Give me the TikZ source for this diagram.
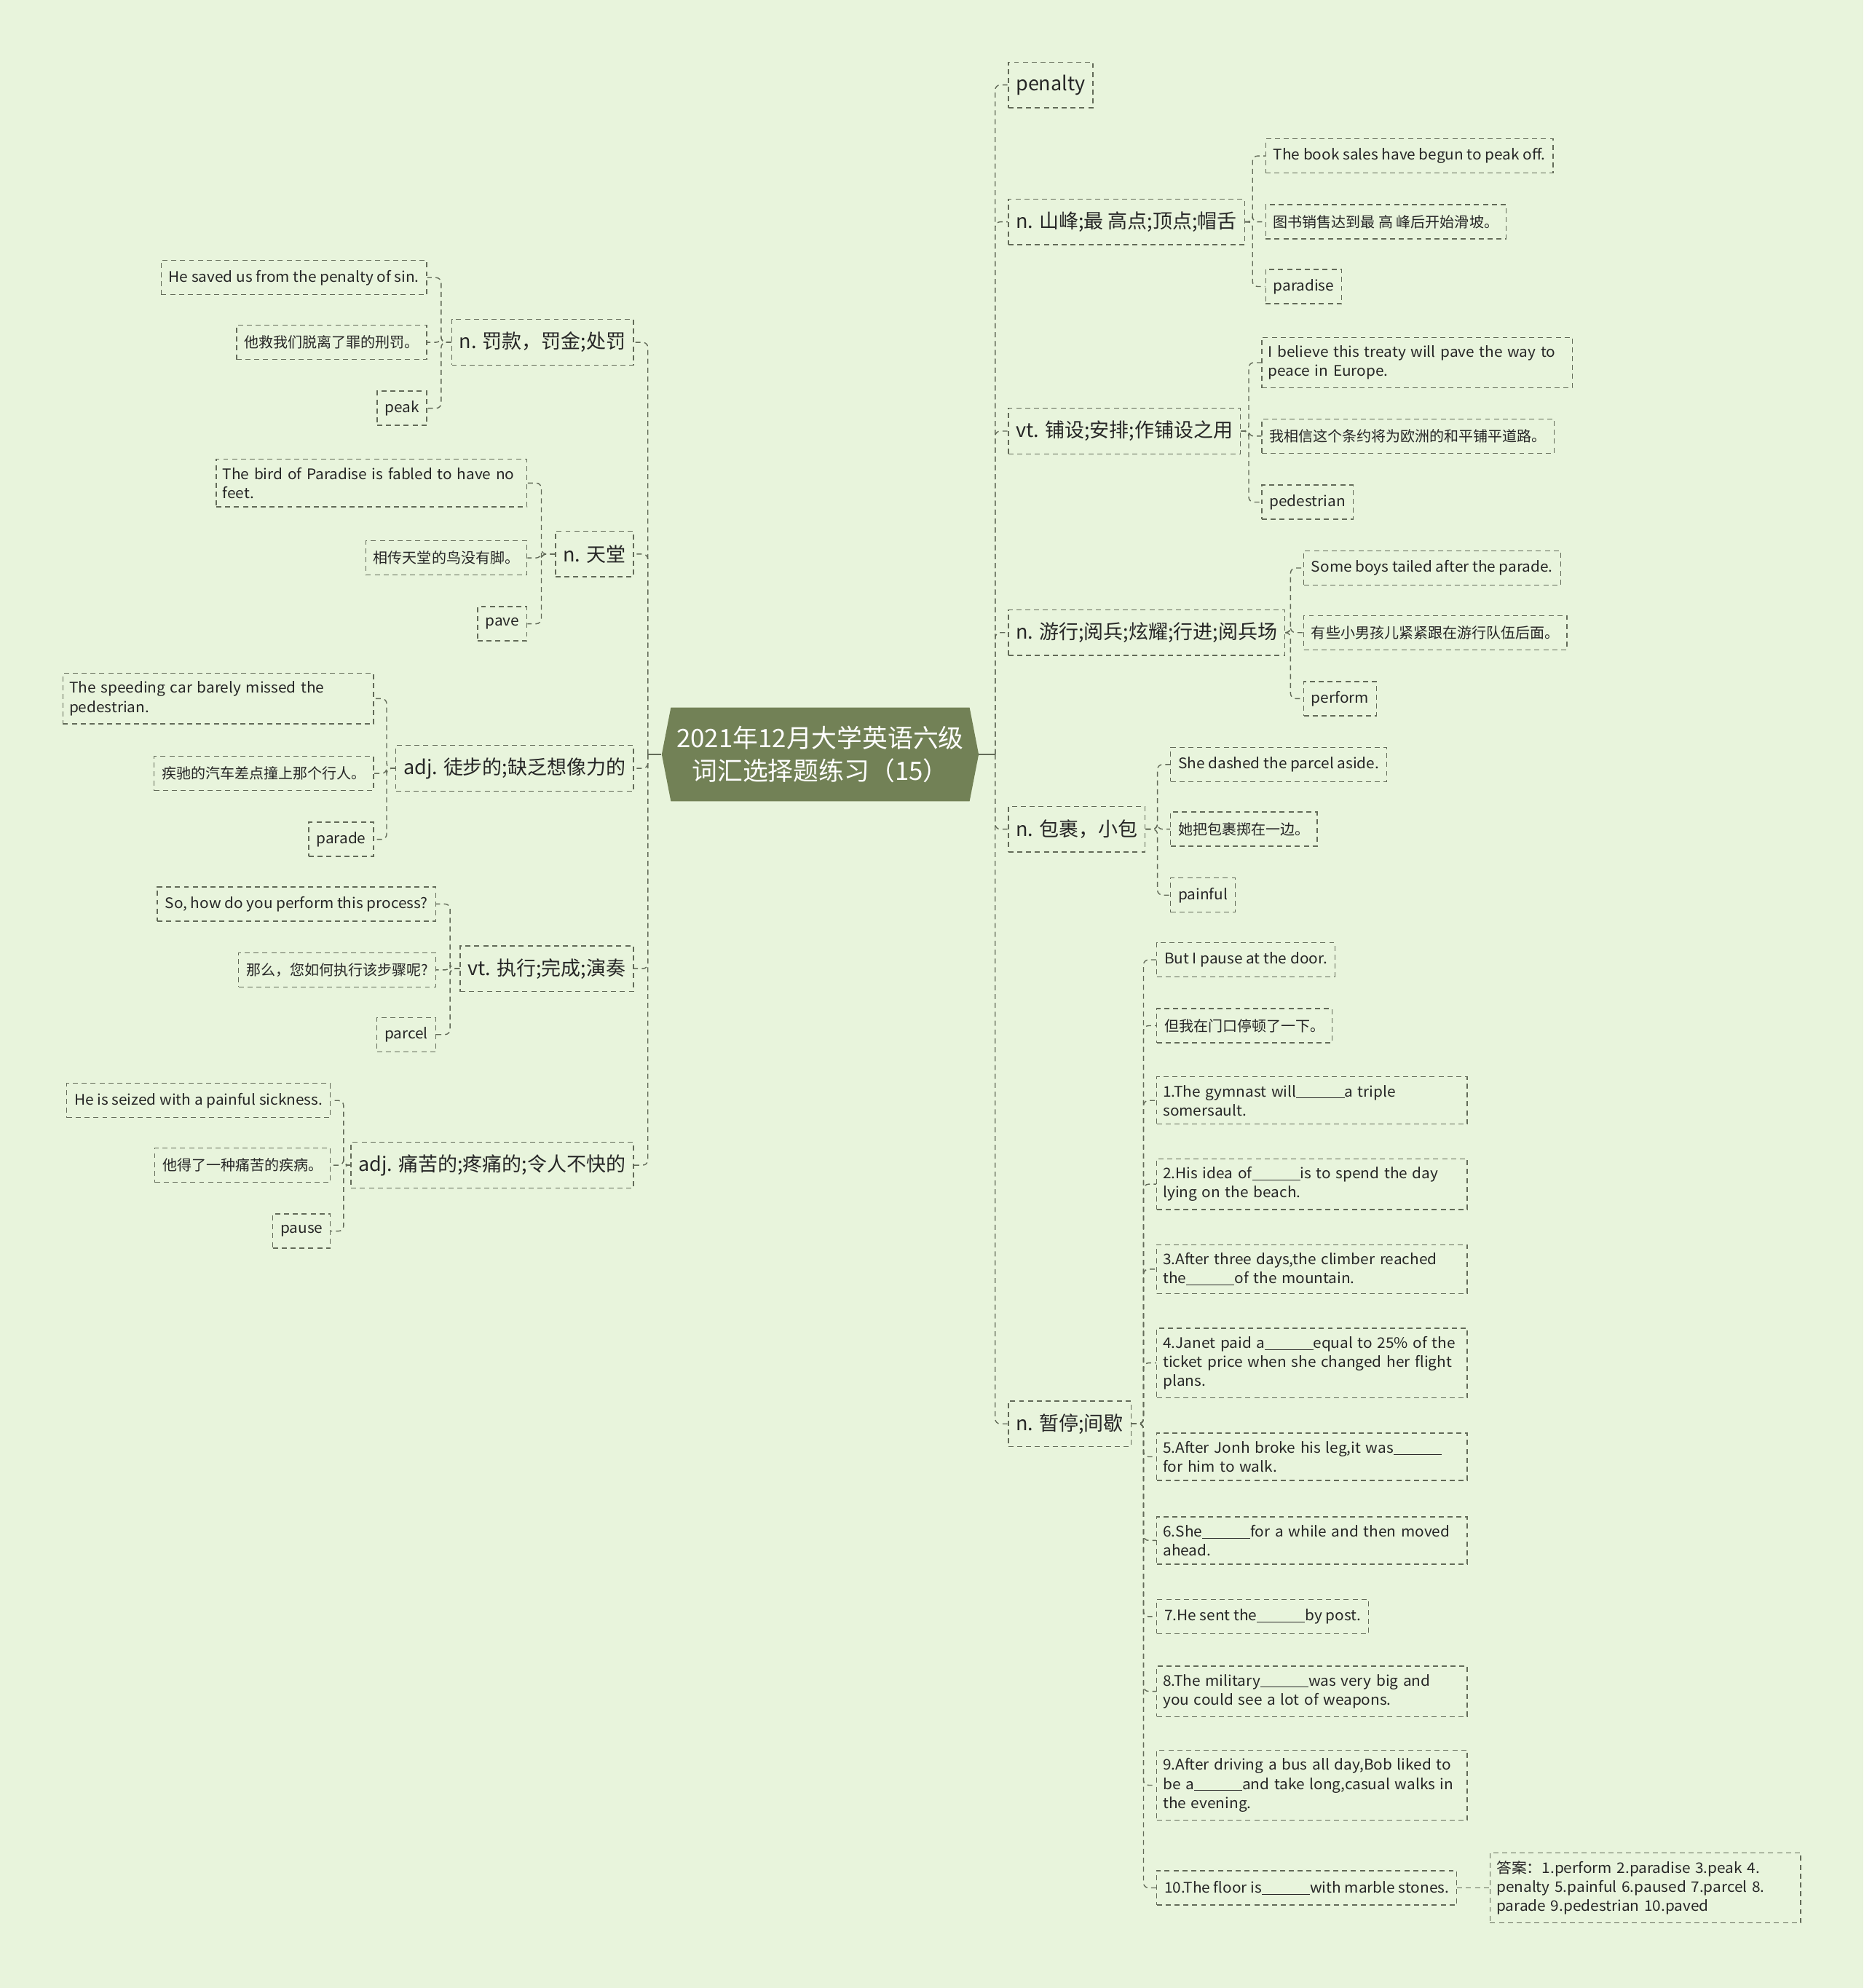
\documentclass[tikz,border=0pt]{standalone}
\usepackage{fontspec}
\setmainfont{Noto Sans CJK SC}
\newfontfamily\latinfont{Noto Sans CJK SC}[FakeStretch=1.04]
\usetikzlibrary{shapes.symbols}

\definecolor{bgcol}{RGB}{232,244,220}
\definecolor{rootcol}{RGB}{114,129,86}
\definecolor{linecol}{RGB}{98,106,88}
\definecolor{txtcol}{RGB}{38,38,38}
\newcommand{\blank}{\rule[-1.2pt]{38pt}{0.5pt}}

\tikzset{
  box/.style={draw=linecol, dash pattern=on 4pt off 3pt, line width=0.8pt,
    inner xsep=6pt, inner ysep=0pt, text=txtcol},
  topic/.style={box, font=\fontsize{15.5}{19}\selectfont, minimum height=36pt},
  leaf/.style={box, font=\fontsize{11.5}{15}\selectfont, minimum height=27pt},
  eng/.style={leaf, font=\fontsize{11.5}{15}\selectfont\latinfont},
  wide/.style={eng, text width=235pt, align=left, inner xsep=5pt, inner ysep=6.5pt},
  conn/.style={draw=linecol, dash pattern=on 4pt off 3pt, line width=0.8pt, rounded corners=4pt},
  stub/.style={draw=linecol, line width=1.6pt},
  root/.style={signal, signal to=west and east, signal pointer angle=158,
    fill=rootcol, text=white, minimum width=250pt, minimum height=74pt,
    inner sep=0pt, align=center, font=\fontsize{20}{26}\selectfont},
}

\begin{document}
\begin{tikzpicture}[x=1pt, y=-1pt]
    \fill[bgcol] (0,0) rectangle (1470,1568);
    \useasboundingbox (0,0) rectangle (1470,1568);

    \node[root] (root) at (647,595) {2021年12月大学英语六级\\词汇选择题练习（15）};
    \coordinate (rtrunk) at (785,595);
    \coordinate (ltrunk) at (511,595);
    \draw[stub] (root.east) -- (rtrunk);
    \draw[stub] (root.west) -- (ltrunk);

    % right side
    \node[topic, anchor=west] (R1) at (795,67) {penalty};
    \node[topic, anchor=west] (R2) at (795,175) {n. 山峰;最 高点;顶点;帽舌};
    \node[topic, anchor=west] (R3) at (795,340) {vt. 铺设;安排;作铺设之用};
    \node[topic, anchor=west] (R4) at (795,499) {n. 游行;阅兵;炫耀;行进;阅兵场};
    \node[topic, anchor=west] (R5) at (795,654) {n. 包裹，小包};
    \node[topic, anchor=west] (R6) at (795,1123) {n. 暂停;间歇};
    \foreach \n in {R1,R2,R3,R4,R5,R6}
        \draw[conn] (rtrunk) |- (\n.west);

    \node[eng, anchor=west] (R2a) at (998,123) {The book sales have begun to peak off.};
    \node[leaf, anchor=west] (R2b) at (998,175) {图书销售达到最 高 峰后开始滑坡。};
    \node[eng, anchor=west] (R2c) at (998,226) {paradise};
    \coordinate (R2t) at (988,175);
    \foreach \c in {R2a,R2b,R2c}
        \draw[conn] (R2.east) -- (R2t) |- (\c.west);

    \node[wide, anchor=west] (R3a) at (995,286) {I believe this treaty will pave the way to\\peace in Europe.};
    \node[leaf, anchor=west] (R3b) at (995,344) {我相信这个条约将为欧洲的和平铺平道路。};
    \node[eng, anchor=west] (R3c) at (995,396) {pedestrian};
    \coordinate (R3t) at (985,340);
    \foreach \c in {R3a,R3b,R3c}
        \draw[conn] (R3.east) -- (R3t) |- (\c.west);

    \node[eng, anchor=west] (R4a) at (1028,448) {Some boys tailed after the parade.};
    \node[leaf, anchor=west] (R4b) at (1028,499) {有些小男孩儿紧紧跟在游行队伍后面。};
    \node[eng, anchor=west] (R4c) at (1028,551) {perform};
    \coordinate (R4t) at (1018,499);
    \foreach \c in {R4a,R4b,R4c}
        \draw[conn] (R4.east) -- (R4t) |- (\c.west);

    \node[eng, anchor=west] (R5a) at (923,603) {She dashed the parcel aside.};
    \node[leaf, anchor=west] (R5b) at (923,654) {她把包裹掷在一边。};
    \node[eng, anchor=west] (R5c) at (923,706) {painful};
    \coordinate (R5t) at (913,654);
    \foreach \c in {R5a,R5b,R5c}
        \draw[conn] (R5.east) -- (R5t) |- (\c.west);

    \node[eng, anchor=west] (R6a) at (912,757) {But I pause at the door.};
    \node[leaf, anchor=west] (R6b) at (912,809) {但我在门口停顿了一下。};
    \node[wide, anchor=west] (Q1) at (912,868) {1.The gymnast will\blank a triple\\somersault.};
    \node[wide, anchor=west] (Q2) at (912,934) {2.His idea of\blank is to spend the day\\lying on the beach.};
    \node[wide, anchor=west] (Q3) at (912,1001) {3.After three days,the climber reached\\the\blank of the mountain.};
    \node[wide, anchor=west] (Q4) at (912,1075) {4.Janet paid a\blank equal to 25\% of the\\ticket price when she changed her flight\\plans.};
    \node[wide, anchor=west] (Q5) at (912,1149) {5.After Jonh broke his leg,it was\blank\\for him to walk.};
    \node[wide, anchor=west] (Q6) at (912,1215) {6.She\blank for a while and then moved\\ahead.};
    \node[eng, anchor=west] (Q7) at (912,1275) {7.He sent the\blank by post.};
    \node[wide, anchor=west] (Q8) at (912,1334) {8.The military\blank was very big and\\you could see a lot of weapons.};
    \node[wide, anchor=west] (Q9) at (912,1408) {9.After driving a bus all day,Bob liked to\\be a\blank and take long,casual walks in\\the evening.};
    \node[eng, anchor=west] (Q10) at (912,1489) {10.The floor is\blank with marble stones.};
    \coordinate (R6t) at (902,1123);
    \foreach \c in {R6a,R6b,Q1,Q2,Q3,Q4,Q5,Q6,Q7,Q8,Q9,Q10}
        \draw[conn] (R6.east) -- (R6t) |- (\c.west);

    \node[wide, anchor=west] (ANS) at (1175,1489) {答案：1.perform 2.paradise 3.peak 4.\\penalty 5.painful 6.paused 7.parcel 8.\\parade 9.pedestrian 10.paved};
    \draw[conn] (Q10.east) -- (ANS.west);

    % left side
    \node[topic, anchor=east] (L1) at (500,270) {n. 罚款，罚金;处罚};
    \node[topic, anchor=east] (L2) at (500,437) {n. 天堂};
    \node[topic, anchor=east] (L3) at (500,606) {adj. 徒步的;缺乏想像力的};
    \node[topic, anchor=east] (L4) at (500,764) {vt. 执行;完成;演奏};
    \node[topic, anchor=east] (L5) at (500,919) {adj. 痛苦的;疼痛的;令人不快的};
    \foreach \n in {L1,L2,L3,L4,L5}
        \draw[conn] (ltrunk) |- (\n.east);

    \node[eng, anchor=east] (L1a) at (337,219) {He saved us from the penalty of sin.};
    \node[leaf, anchor=east] (L1b) at (337,270) {他救我们脱离了罪的刑罚。};
    \node[eng, anchor=east] (L1c) at (337,322) {peak};
    \coordinate (L1t) at (348,270);
    \foreach \c in {L1a,L1b,L1c}
        \draw[conn] (L1.west) -- (L1t) |- (\c.east);

    \node[wide, anchor=east] (L2a) at (416,381) {The bird of Paradise is fabled to have no\\feet.};
    \node[leaf, anchor=east] (L2b) at (416,440) {相传天堂的鸟没有脚。};
    \node[eng, anchor=east] (L2c) at (416,492) {pave};
    \coordinate (L2t) at (427,437);
    \foreach \c in {L2a,L2b,L2c}
        \draw[conn] (L2.west) -- (L2t) |- (\c.east);

    \node[wide, anchor=east] (L3a) at (295,551) {The speeding car barely missed the\\pedestrian.};
    \node[leaf, anchor=east] (L3b) at (295,610) {疾驰的汽车差点撞上那个行人。};
    \node[eng, anchor=east] (L3c) at (295,662) {parade};
    \coordinate (L3t) at (305,606);
    \foreach \c in {L3a,L3b,L3c}
        \draw[conn] (L3.west) -- (L3t) |- (\c.east);

    \node[eng, anchor=east] (L4a) at (344,713) {So, how do you perform this process?};
    \node[leaf, anchor=east] (L4b) at (344,765) {那么，您如何执行该步骤呢?};
    \node[eng, anchor=east] (L4c) at (344,816) {parcel};
    \coordinate (L4t) at (355,764);
    \foreach \c in {L4a,L4b,L4c}
        \draw[conn] (L4.west) -- (L4t) |- (\c.east);

    \node[eng, anchor=east] (L5a) at (261,868) {He is seized with a painful sickness.};
    \node[leaf, anchor=east] (L5b) at (261,919) {他得了一种痛苦的疾病。};
    \node[eng, anchor=east] (L5c) at (261,971) {pause};
    \coordinate (L5t) at (271,919);
    \foreach \c in {L5a,L5b,L5c}
        \draw[conn] (L5.west) -- (L5t) |- (\c.east);
\end{tikzpicture}
\end{document}
